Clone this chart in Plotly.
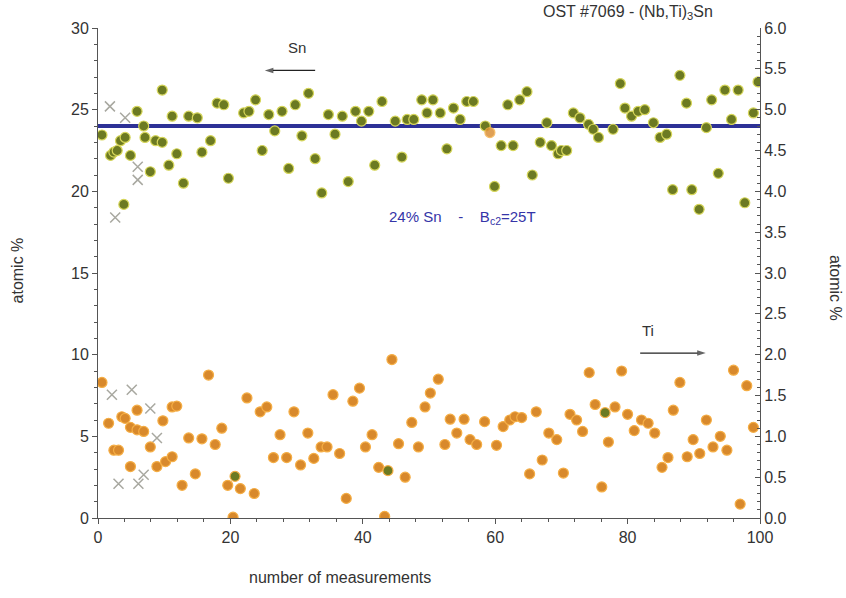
import plotly.graph_objects as go

# ---- data ----
sn_x = [0.6, 1.9, 2.4, 2.9, 3.4, 4.1, 3.9, 4.9, 5.9, 6.9, 7.1, 7.9, 8.7, 9.7, 9.7, 10.7, 11.2, 11.9, 12.9, 13.7,
        15.0, 15.7, 17.0, 18.0, 19.0, 19.7, 22.0, 22.8, 23.8, 24.8, 25.8, 26.7, 27.8, 28.8, 29.8, 30.8, 31.8, 32.8,
        33.8, 34.8, 35.8, 36.9, 37.8, 38.9, 39.8, 40.9, 41.8, 42.9, 44.9, 45.9, 46.7, 47.7, 48.9, 49.7, 50.6, 51.7,
        52.7, 53.7, 54.7, 55.7, 56.7, 58.5, 59.9, 60.9, 61.9, 62.7, 63.7, 64.8, 65.6, 66.8, 67.8, 68.5, 69.5, 70.0,
        70.8, 71.8, 72.8, 74.1, 74.8, 75.6, 77.8, 78.9, 79.6, 80.6, 81.6, 82.6, 83.9, 84.9, 85.9, 86.8, 87.9, 88.9,
        89.7, 90.8, 91.9, 92.7, 93.7, 94.7, 95.7, 96.7, 97.7, 99.0, 99.7]
sn_y = [23.45, 22.2, 22.4, 22.5, 23.1, 23.3, 19.2, 22.2, 24.9, 24.0, 23.3, 21.2, 23.1, 23.0, 26.2, 21.6, 24.6, 22.3,
        20.5, 24.6, 24.5, 22.4, 23.1, 25.4, 25.3, 20.8, 24.8, 24.9, 25.6, 22.5, 24.7, 23.7, 24.9, 21.4, 25.3, 23.4,
        26.0, 22.0, 19.9, 24.7, 23.5, 24.6, 20.6, 24.9, 24.3, 24.9, 21.6, 25.5, 24.3, 22.1, 24.4, 24.4, 25.6, 24.8,
        25.6, 24.8, 22.6, 25.1, 24.4, 25.5, 25.5, 24.0, 20.3, 22.8, 25.3, 22.8, 25.6, 26.1, 21.0, 23.0, 24.2, 22.8,
        22.3, 22.5, 22.5, 24.8, 24.5, 24.1, 23.8, 23.3, 23.8, 26.6, 25.1, 24.6, 24.9, 25.0, 24.2, 23.3, 23.5, 20.1,
        27.1, 25.4, 20.1, 18.9, 23.9, 25.6, 21.1, 26.2, 24.4, 26.2, 19.3, 24.8, 26.7]

ti_x = [0.6, 1.6, 2.4, 3.1, 3.6, 4.1, 4.9, 4.9, 5.9, 5.9, 6.9, 7.9, 8.9, 9.8, 10.2, 11.2, 11.2, 11.9, 12.7, 13.7,
        14.7, 15.7, 16.7, 17.7, 18.7, 19.6, 20.4, 21.5, 22.5, 23.6, 24.5, 25.5, 26.5, 27.5, 28.5, 29.6, 30.6, 31.7,
        32.6, 33.7, 34.6, 35.5, 36.5, 37.5, 38.5, 39.5, 40.4, 41.4, 42.4, 43.3, 44.4, 45.4, 46.4, 47.4, 48.4, 49.4,
        50.2, 51.4, 52.4, 53.2, 54.2, 55.3, 56.2, 57.2, 58.4, 60.2, 61.2, 62.2, 63.0, 64.0, 65.2, 66.2, 67.1, 68.1,
        69.3, 70.3, 71.3, 72.3, 73.2, 74.2, 75.1, 76.1, 77.1, 78.1, 79.1, 80.0, 81.0, 82.1, 83.1, 84.1, 85.2, 86.1,
        86.9, 87.9, 89.0, 89.9, 90.9, 91.9, 92.9, 94.0, 95.0, 96.0, 97.0, 98.0, 99.0]
ti_y = [1.66, 1.16, 0.83, 0.83, 1.24, 1.22, 0.63, 1.11, 1.32, 1.08, 1.06, 0.87, 0.63, 1.19, 0.69, 0.75, 1.36, 1.37,
        0.40, 0.98, 0.54, 0.97, 1.75, 0.90, 1.10, 0.40, 0.01, 0.36, 1.47, 0.30, 1.30, 1.36, 0.74, 1.02, 0.74, 1.30,
        0.65, 1.04, 0.73, 0.87, 0.87, 1.51, 0.79, 0.24, 1.43, 1.59, 0.87, 1.02, 0.62, 0.02, 1.94, 0.91, 0.50, 1.17,
        0.87, 1.36, 1.53, 1.70, 0.90, 1.21, 1.04, 1.21, 0.96, 0.90, 1.18, 0.89, 1.12, 1.20, 1.24, 1.23, 0.54, 1.30,
        0.71, 1.04, 0.96, 0.55, 1.27, 1.20, 1.06, 1.78, 1.39, 0.38, 0.93, 1.36, 1.80, 1.27, 1.07, 1.20, 1.16, 1.04,
        0.62, 0.74, 1.32, 1.66, 0.75, 0.96, 0.79, 1.20, 0.87, 1.00, 0.83, 1.81, 0.17, 1.62, 1.11]

# rejected measurements (grey crosses)
sn_rej_x = [1.8, 4.1, 6.0, 6.0, 2.6]
sn_rej_y = [25.2, 24.5, 21.5, 20.7, 18.4]
ti_rej_x = [2.1, 5.1, 7.9, 8.9, 3.1, 6.1, 6.9]
ti_rej_y = [1.51, 1.57, 1.34, 0.98, 0.42, 0.42, 0.53]

# odd-coloured points
ti_green_x = [20.7, 43.8, 76.6]
ti_green_y = [0.51, 0.58, 1.29]
sn_orange_x = [59.2]
sn_orange_y = [23.6]

ref_line_x = [0, 100]
ref_line_y = [24, 24]

# axis-pointer arrows (tail -> head), in left-axis units
sn_arrow_x = [32.8, 25.2]
sn_arrow_y = [27.4, 27.4]
ti_arrow_x = [81.9, 91.8]
ti_arrow_y = [10.1, 10.1]

SN_FILL, SN_EDGE = "#6c7a22", "#d6d65a"
TI_FILL, TI_EDGE = "#d8892c", "#f5ae45"
FONT = "Liberation Sans, Arial, sans-serif"
TXT = "#333333"

fig = go.Figure()

fig.add_trace(go.Scatter(x=ref_line_x, y=ref_line_y, mode="lines",
                         line=dict(color="#2d3196", width=4), showlegend=False))
fig.add_trace(go.Scatter(x=sn_rej_x, y=sn_rej_y, mode="markers", showlegend=False,
                         marker=dict(symbol="x-thin", size=10, line=dict(color="#a8a8a0", width=1.5))))
fig.add_trace(go.Scatter(x=sn_x, y=sn_y, mode="markers", showlegend=False,
                         marker=dict(size=10, color=SN_FILL, line=dict(color=SN_EDGE, width=1.2))))
fig.add_trace(go.Scatter(x=sn_orange_x, y=sn_orange_y, mode="markers", showlegend=False,
                         marker=dict(size=10, color=TI_FILL, opacity=0.8, line=dict(color=TI_EDGE, width=1.2))))

fig.add_trace(go.Scatter(x=ti_rej_x, y=ti_rej_y, mode="markers", yaxis="y2", showlegend=False,
                         marker=dict(symbol="x-thin", size=10, line=dict(color="#a8a8a0", width=1.5))))
fig.add_trace(go.Scatter(x=ti_x, y=ti_y, mode="markers", yaxis="y2", showlegend=False,
                         marker=dict(size=10, color=TI_FILL, line=dict(color=TI_EDGE, width=1.2))))
fig.add_trace(go.Scatter(x=ti_green_x, y=ti_green_y, mode="markers", yaxis="y2", showlegend=False,
                         marker=dict(size=10, color=SN_FILL, line=dict(color=TI_EDGE, width=1.2))))

for ax_, ay_ in ((sn_arrow_x, sn_arrow_y), (ti_arrow_x, ti_arrow_y)):
    fig.add_trace(go.Scatter(x=ax_, y=ay_, mode="lines+markers", showlegend=False, hoverinfo="skip",
                             line=dict(color="#222222", width=1.3),
                             marker=dict(symbol=["circle", "arrow"], size=[0, 9], angleref="previous",
                                         color="#222222", line=dict(width=0))))

axis_common = dict(showgrid=False, zeroline=False, showline=True, linecolor="#555555", linewidth=1,
                   tickfont=dict(family=FONT, size=16, color=TXT), tickcolor="#555555")

fig.update_layout(
    width=846, height=598,
    margin=dict(l=98, r=86, t=28, b=80),
    paper_bgcolor="white", plot_bgcolor="white",
    font=dict(family=FONT, color=TXT),
    xaxis=dict(range=[0, 100], dtick=20, ticks="outside", ticklen=5,
               minor=dict(dtick=4, ticks="outside", ticklen=3, tickcolor="#555555"), **axis_common),
    yaxis=dict(range=[0, 30], dtick=5, ticks="outside", ticklen=5,
               minor=dict(dtick=1, ticks="outside", ticklen=3, tickcolor="#555555"), **axis_common),
    yaxis2=dict(range=[0, 6], dtick=0.5, tickformat=".1f", ticks="inside", ticklen=5, overlaying="y",
                side="right", minor=dict(dtick=0.1, ticks="inside", ticklen=3, tickcolor="#555555"),
                **axis_common),
)

ann = [
    dict(text="OST #7069 - (Nb,Ti)<sub>3</sub>Sn", xref="paper", yref="paper", x=0.80, y=1.032,
         showarrow=False, font=dict(size=16, color=TXT), xanchor="center", yanchor="middle"),
    dict(text="number of measurements", xref="paper", yref="paper", x=0.366, y=-0.122,
         showarrow=False, font=dict(size=16, color=TXT), xanchor="center", yanchor="middle"),
    dict(text="atomic %", xref="paper", yref="paper", x=-0.121, y=0.505, textangle=-90,
         showarrow=False, font=dict(size=16, color=TXT), xanchor="center", yanchor="middle"),
    dict(text="atomic %", xref="paper", yref="paper", x=1.113, y=0.47, textangle=90,
         showarrow=False, font=dict(size=16, color=TXT), xanchor="center", yanchor="middle"),
    dict(text="Sn", x=30.1, y=28.8, xref="x", yref="y", showarrow=False,
         font=dict(size=15, color=TXT)),
    dict(text="Ti", x=83.1, y=11.5, xref="x", yref="y", showarrow=False,
         font=dict(size=15, color=TXT)),
    dict(text="24% Sn    -    B<sub>c2</sub>=25T", x=55.0, y=18.4, xref="x", yref="y", showarrow=False,
         font=dict(size=15, color="#3535a8")),
]
fig.update_layout(annotations=ann)

fig.write_html("out.html")
